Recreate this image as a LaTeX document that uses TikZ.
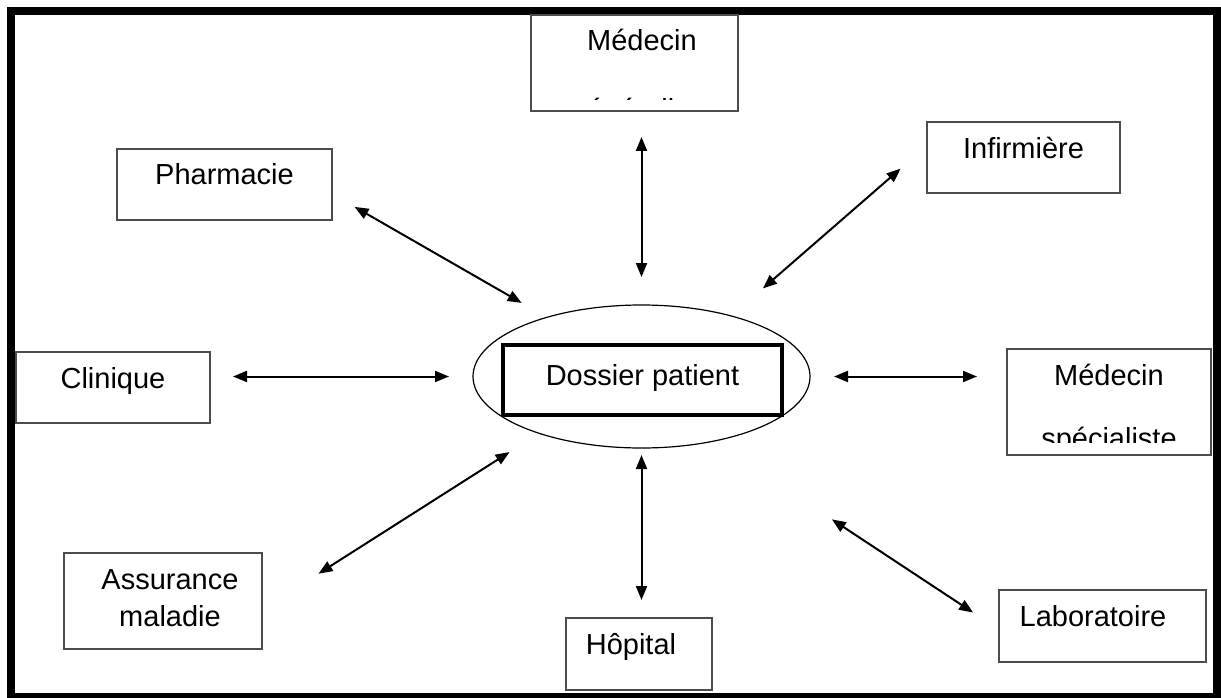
\documentclass[tikz,border=0pt]{standalone}
\usepackage{fontspec}
\setmainfont{Liberation Sans}
\usetikzlibrary{arrows.meta, shapes.geometric, calc}
\tikzset{
    box/.style={rectangle, draw=black!70, line width=1.8pt, inner sep=0pt, outer sep=0pt, anchor=north, text height=36pt, align=center, font=\fontsize{29}{37}\selectfont},
    core/.style={rectangle, draw, line width=3.5pt, inner sep=0pt, outer sep=0pt, text height=40pt, text depth=30pt, minimum width=279pt, font=\fontsize{29}{37}\selectfont},
    ring/.style={ellipse, draw, line width=1.2pt, inner sep=0pt, outer sep=0pt, minimum width=337pt, minimum height=143pt},
    cut/.style={inner sep=0pt, anchor=base, font=\fontsize{29}{37}\selectfont},
    link/.style={{Triangle[length=14pt,width=11pt]}-{Triangle[length=14pt,width=11pt]}, line width=2pt},
    gap/.style 2 args={shorten <=#1, shorten >=#2},
}
\begin{document}
\begin{tikzpicture}[x=1pt, y=-1pt]
    \useasboundingbox (0,0) rectangle (1221,698);
    \draw[line width=8pt] (11,11) rectangle (1216.5,697);

    % centre
    \node[ring] (dossier) at (641.5,376.5) {};
    \node[core] (dossierbox) at (642.5,380) {Dossier patient};

    % the boxes round it
    \node[box, minimum width=207pt, text depth=60pt] (generaliste) at (634.5,15) {\hspace*{15pt}Médecin};
    \node[box, minimum width=215pt, text depth=35pt] (pharma) at (224.5,149) {Pharmacie};
    \node[box, minimum width=193pt, text depth=35pt] (infirmiere) at (1023.5,122) {Infirmière};
    \node[box, minimum width=194pt, text depth=35pt] (clinique) at (113,352) {Clinique};
    \node[box, minimum width=204pt, text depth=70pt] (specialiste) at (1109,349) {Médecin};
    \node[box, minimum width=198pt, text height=73pt, text depth=23pt] (assurance) at (163,553) {\hspace*{14pt}Assurance\\\hspace*{14pt}maladie};
    \node[box, minimum width=146pt, text depth=36pt] (hopital) at (639,618) {Hôpital\hspace*{16pt}};
    \node[box, minimum width=207pt, text depth=36pt] (labo) at (1102.5,590) {Laboratoire\hspace*{19pt}};

    % second lines, cut off by the boxes
    \begin{scope}
        \clip (generaliste.north west) rectangle ([yshift=11pt]generaliste.south east);
        \node[cut] (generaliste2) at ([xshift=7.5pt,yshift=-105pt]generaliste.north) {généraliste};
    \end{scope}
    \begin{scope}
        \clip (specialiste.north west) rectangle ([yshift=13pt]specialiste.south east);
        \node[cut] (specialiste2) at ([yshift=-99pt]specialiste.north) {spécialiste};
    \end{scope}

    % links
    \draw[link, gap={26pt}{28pt}] (generaliste.south -| dossier.north) -- (dossier.north);
    \draw[link, gap={26pt}{29pt}] (pharma.-5.6) -- (dossier.148.3);
    \draw[link, gap={35pt}{42pt}] (infirmiere.173.8) -- (dossier.34.1);
    \draw[link, gap={23pt}{24pt}] (clinique.east |- dossier.west) -- (dossier.west);
    \draw[link, gap={24pt}{30pt}] (dossier.east) -- (specialiste.west |- dossier.east);
    \draw[link, gap={67pt}{35pt}] (assurance.-5.2) -- (dossier.-151.3);
    \draw[link, gap={7pt}{18pt}] (dossier.south) -- (hopital.north -| dossier.south);
    \draw[link, gap={142pt}{31pt}] (dossier.-42.3) -- (labo.-178.3);
\end{tikzpicture}
\end{document}
